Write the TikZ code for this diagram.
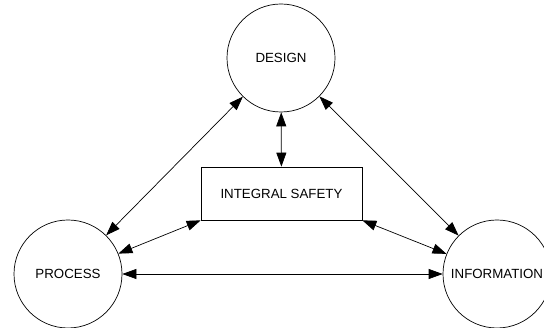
\documentclass[tikz,border=0pt]{standalone}
\usepackage{fontspec}
\setmainfont{Liberation Sans}
\usetikzlibrary{arrows.meta}

\begin{document}
\begin{tikzpicture}[x=1pt,y=-1pt,
  area/.style={draw,circle,minimum size=108pt,inner sep=0pt,line width=0.7pt},
  box/.style={draw,rectangle,minimum width=161pt,minimum height=53pt,line width=0.7pt},
  link/.style={line width=0.7pt,{Triangle[length=14pt,width=10pt]}-{Triangle[length=14pt,width=10pt]}},
  font=\fontsize{13.3}{16}\selectfont]
\useasboundingbox (0,0) rectangle (544,328);

\node[area] (design) at (281,58) {DESIGN};
\node[area] (process) at (68,274) {PROCESS};
\node[area] (information) at (497,274) {INFORMATION};
\node[box] (safety) at (281.5,193.5) {INTEGRAL SAFETY};

\draw[link] (design) -- (process);
\draw[link] (design) -- (information);
\draw[link] (process) -- (information);
\draw[link] (design) -- (safety);
\draw[link] (process) -- (safety.south west);
\draw[link] (safety.south east) -- (information);
\end{tikzpicture}
\end{document}
